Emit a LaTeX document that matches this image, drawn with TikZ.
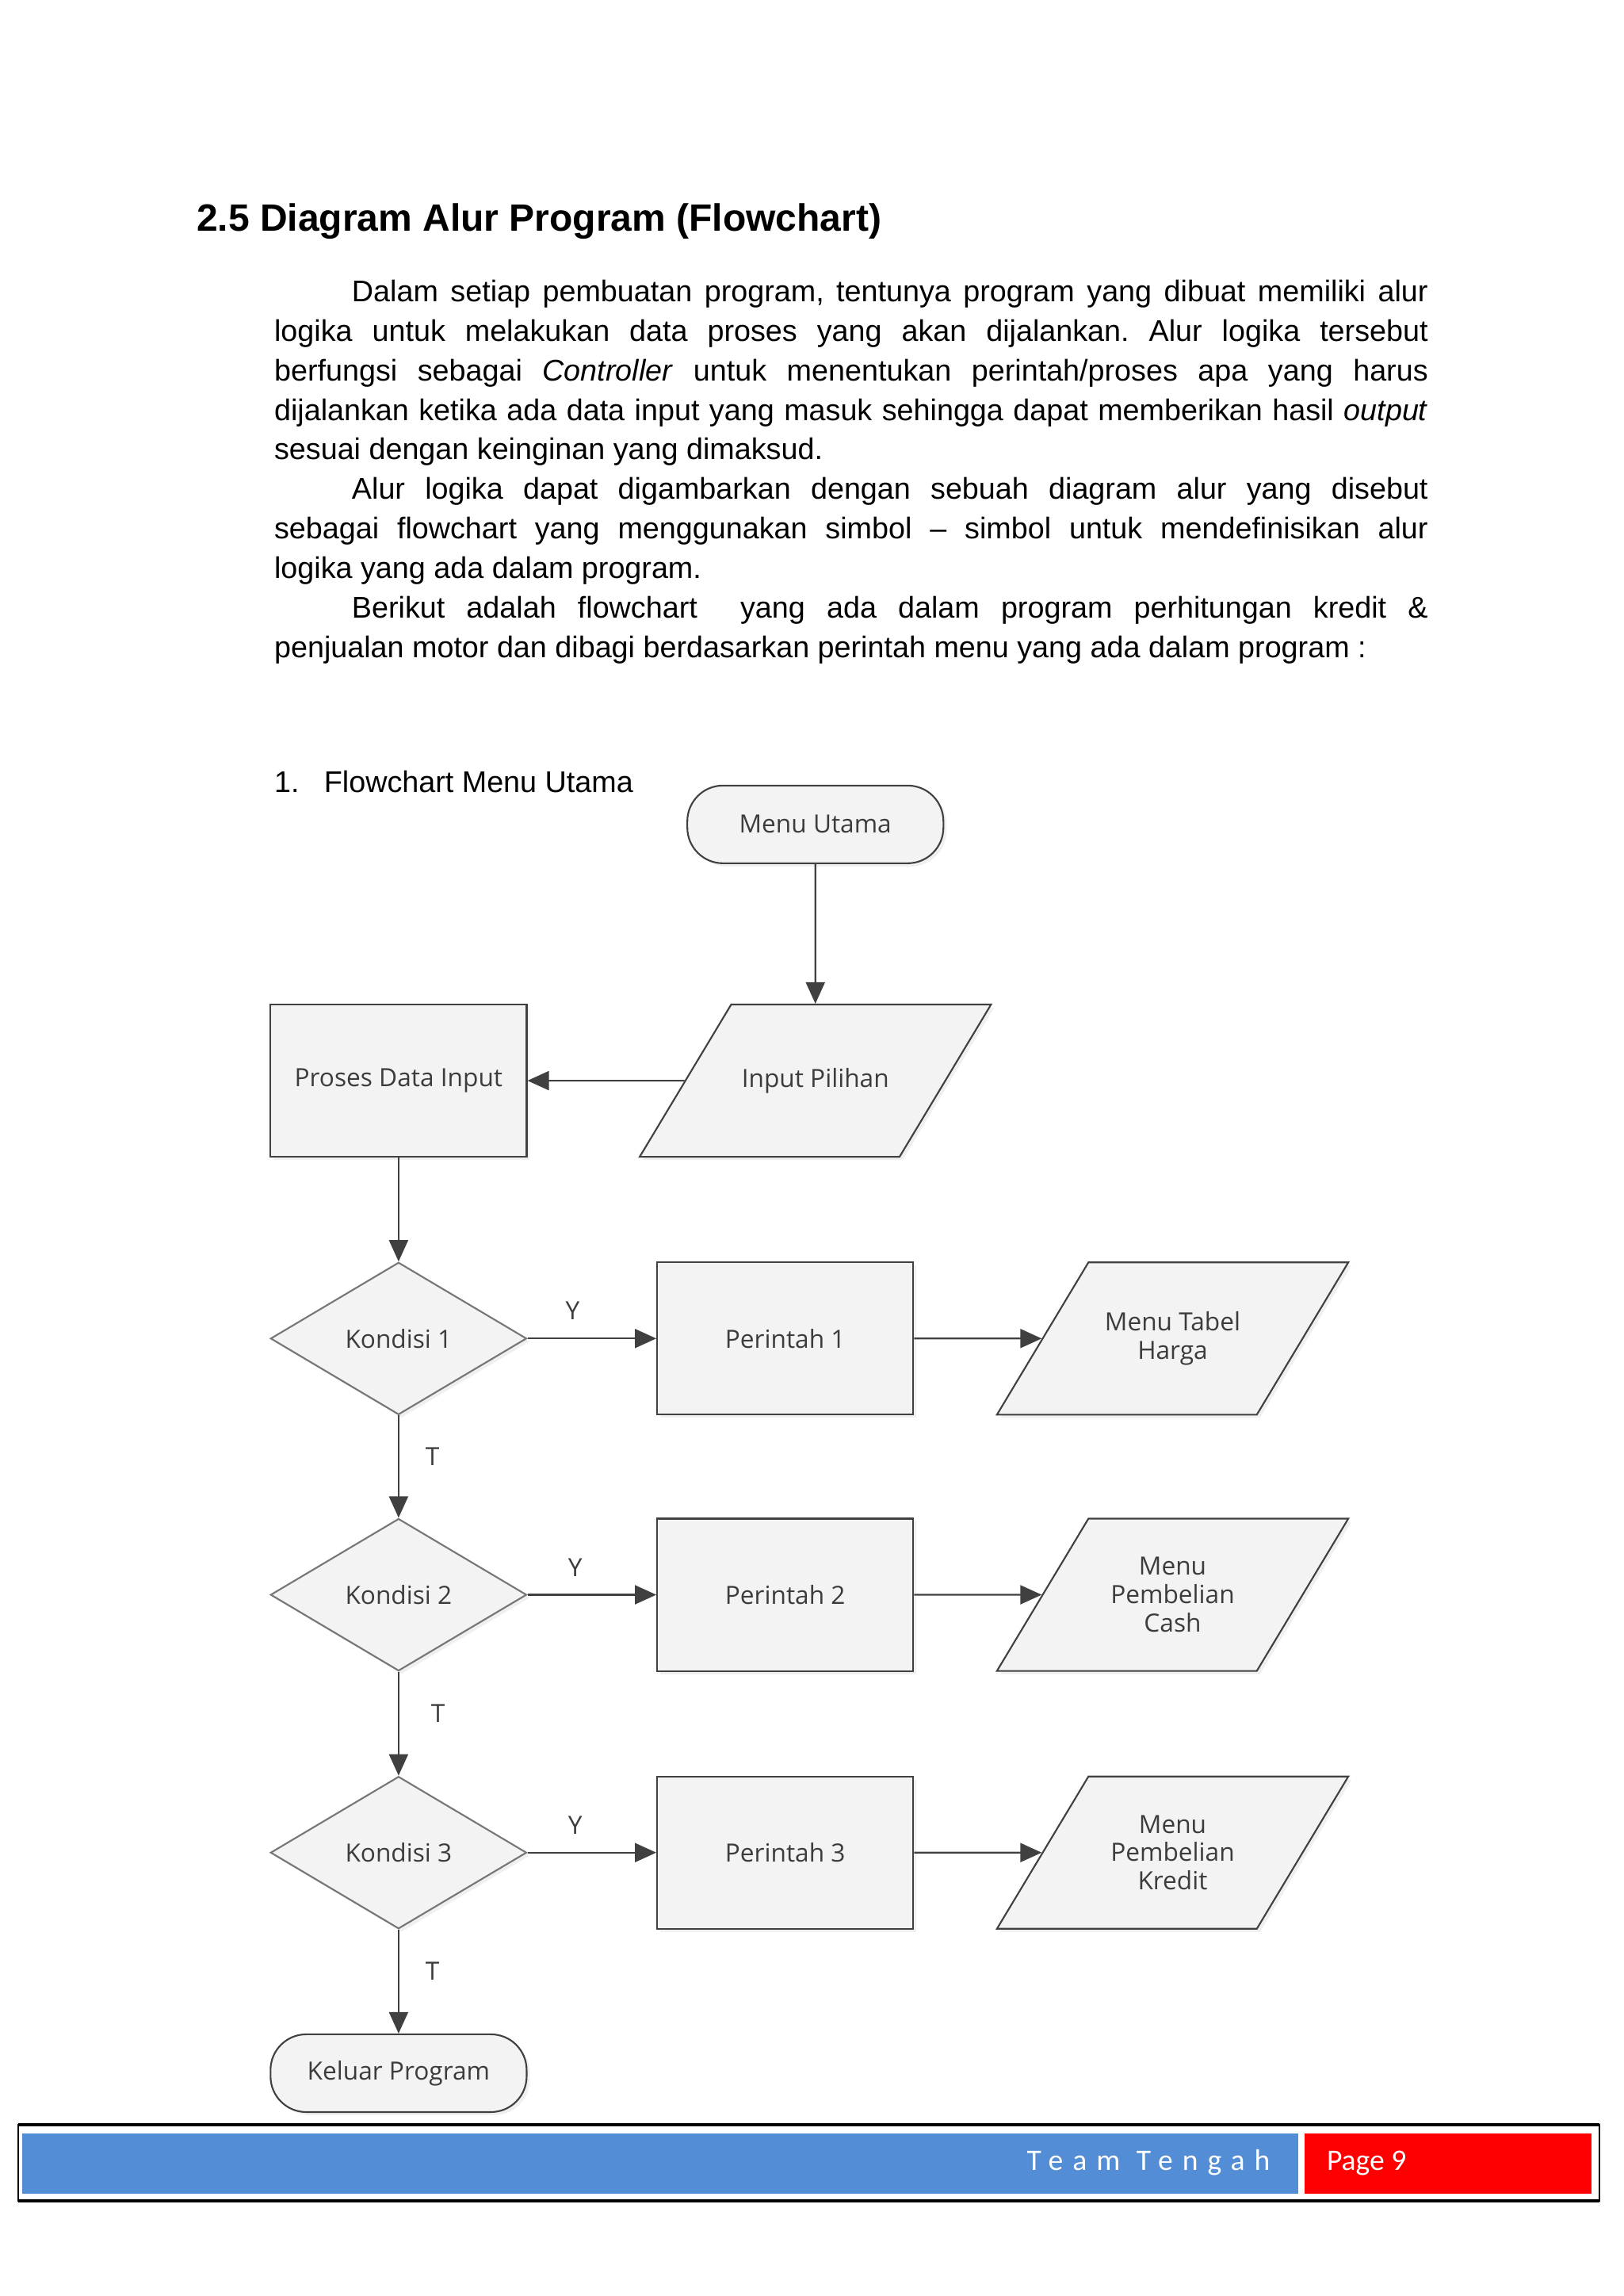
\documentclass[tikz,border=0pt]{standalone}
\usepackage{fontspec}
\setmainfont{Liberation Sans}
\newfontfamily\chartfont{Open Sans}
\newfontfamily\footfont{Carlito}
\newfontfamily\footspaced[LetterSpace=32]{Carlito}
\usetikzlibrary{shapes.geometric,shapes.misc,arrows.meta,positioning,shadows}
\definecolor{shapeline}{RGB}{64,64,64}
\definecolor{decisionline}{RGB}{118,118,118}
\definecolor{shapefill}{RGB}{243,243,243}
\definecolor{labelgray}{RGB}{60,60,60}
\definecolor{footblue}{RGB}{83,141,213}
\definecolor{footred}{RGB}{255,0,0}
\frenchspacing
% fixed-size text box for the input/output parallelograms
\newcommand{\iotext}[1]{\parbox[c][1.92cm][c]{2.124cm}{\centering #1}}

\begin{document}
\begin{tikzpicture}[
    x=0.018467cm, y=-0.018467cm,
    every node/.style={font=\chartfont\fontsize{9}{10.2}\selectfont, text=labelgray},
    softshadow/.style={drop shadow={opacity=0.12, shadow xshift=0.04cm, shadow yshift=-0.04cm}},
    terminal/.style={rectangle, rounded corners=0.45cm, draw=shapeline, line width=0.6pt, fill=shapefill, minimum width=3.23cm, minimum height=0.98cm, softshadow},
    process/.style={rectangle, draw=shapeline, line width=0.6pt, fill=shapefill, minimum width=3.23cm, minimum height=1.92cm, softshadow},
    decision/.style={diamond, draw=decisionline, line width=0.6pt, fill=shapefill, minimum width=3.23cm, minimum height=1.92cm, inner sep=0pt, softshadow},
    io/.style={trapezium, trapezium left angle=59, trapezium right angle=121, inner sep=0pt, draw=shapeline, line width=0.6pt, fill=shapefill, softshadow},
    arrow/.style={-{Triangle[length=0.27cm, width=0.24cm]}, line width=0.6pt, color=shapeline},
    bodyline/.style={anchor=base west, inner sep=0pt, text=black, font=\rmfamily\fontsize{10.73}{14.2}\selectfont}
]
\useasboundingbox (0,0) rectangle (1109,1568);

% Heading and paragraphs
\node[bodyline, font=\rmfamily\bfseries\fontsize{13.65}{16}\selectfont] (title) at (134,158) {2.5 Diagram Alur Program (Flowchart)};

\node[bodyline] (par1a) at (240,206) {\makebox[13.573cm][s]{Dalam setiap pembuatan program, tentunya program yang dibuat memiliki alur}};
\node[bodyline] (par1b) at (187,233) {\makebox[14.552cm][s]{logika untuk melakukan data proses yang akan dijalankan. Alur logika tersebut}};
\node[bodyline] (par1c) at (187,260) {\makebox[14.552cm][s]{berfungsi sebagai \textit{Controller} untuk menentukan perintah/proses apa yang harus}};
\node[bodyline] (par1d) at (187,287) {\makebox[14.552cm][s]{dijalankan ketika ada data input yang masuk sehingga dapat memberikan hasil \textit{output}}};
\node[bodyline] (par1e) at (187,314) {sesuai dengan keinginan yang dimaksud.};
\node[bodyline] (par2a) at (240,341) {\makebox[13.573cm][s]{Alur logika dapat digambarkan dengan sebuah diagram alur yang disebut}};
\node[bodyline] (par2b) at (187,368) {\makebox[14.552cm][s]{sebagai flowchart yang menggunakan simbol -- simbol untuk mendefinisikan alur}};
\node[bodyline] (par2c) at (187,395) {logika yang ada dalam program.};
\node[bodyline] (par3a) at (240,422) {\makebox[13.573cm][s]{Berikut adalah flowchart\ \ yang ada dalam program perhitungan kredit \&}};
\node[bodyline] (par3b) at (187,449) {penjualan motor dan dibagi berdasarkan perintah menu yang ada dalam program :};

\node[bodyline] (num1) at (187,541) {1.};
\node[bodyline] (sub1) at (221,541) {Flowchart Menu Utama};

% Flowchart
\node[terminal] (menu) at (557,563) {Menu Utama};
\node[io] (input) at (557,738) {\iotext{Input Pilihan}};
\node[process, left=1.98cm of input.left side, anchor=east] (proses) {Proses Data Input};

\node[decision, below=1.31cm of proses] (k1) {Kondisi 1};
\node[process, right=1.625cm of k1] (p1) {Perintah 1};
\node[io, right=1.61cm of p1, anchor=left side] (m1) {\iotext{Menu Tabel\\Harga}};

\node[decision, below=1.29cm of k1] (k2) {Kondisi 2};
\node[process, right=1.625cm of k2] (p2) {Perintah 2};
\node[io, right=1.61cm of p2, anchor=left side] (m2) {\iotext{Menu\\Pembelian\\Cash}};

\node[decision, below=1.31cm of k2] (k3) {Kondisi 3};
\node[process, right=1.625cm of k3] (p3) {Perintah 3};
\node[io, right=1.61cm of p3, anchor=left side] (m3) {\iotext{Menu\\Pembelian\\Kredit}};

\node[terminal, below=1.31cm of k3] (keluar) {Keluar Program};

% Connections
\draw[arrow] (menu) -- (input);
\draw[arrow] (input) -- (proses);
\draw[arrow] (proses) -- (k1);
\draw[arrow] (k1) -- node[above=3pt, pos=0.35] {Y} (p1);
\draw[arrow] (p1) -- (m1);
\draw[arrow] (k1) -- node[right=6pt, pos=0.4] {T} (k2);
\draw[arrow] (k2) -- node[above=3pt, pos=0.37] {Y} (p2);
\draw[arrow] (p2) -- (m2);
\draw[arrow] (k2) -- node[right=8pt, pos=0.4] {T} (k3);
\draw[arrow] (k3) -- node[above=3pt, pos=0.37] {Y} (p3);
\draw[arrow] (p3) -- (m3);
\draw[arrow] (k3) -- node[right=6pt, pos=0.4] {T} (keluar);

% Footer
\draw[line width=0.5pt] (12.5,1451) rectangle (1092.5,1503);
\draw[line width=1.3pt] (12.5,1451) -- (1092.5,1451) (12.5,1503) -- (1092.5,1503);
\node[fill=footblue, inner sep=0pt, minimum width=16.094cm, minimum height=0.757cm] (bluebar) at (451.25,1477.5) {};
\node[fill=footred, inner sep=0pt, minimum width=3.62cm, minimum height=0.757cm] (redbar) at (989,1477.5) {};
\node[anchor=base east, inner sep=0pt, text=white, font=\footspaced\fontsize{10.7}{12}\selectfont] (team) at (868,1482) {Team Tengah};
\node[anchor=base west, inner sep=0pt, text=white, font=\footfont\fontsize{10.7}{12}\selectfont] (page) at (906,1482) {Page 9};

\end{tikzpicture}
\end{document}
